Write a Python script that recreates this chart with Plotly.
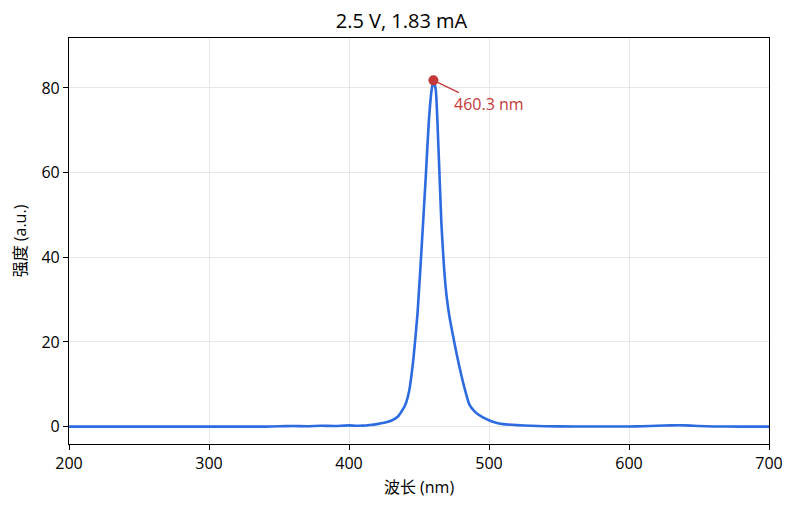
import plotly.graph_objects as go

# spectrum
wavelength = [200, 220, 240, 260, 280, 300, 320, 340, 350, 360, 370, 380, 390, 400,
              405, 410, 415, 420, 425, 430, 435, 440, 443, 446, 449, 452, 455, 457,
              459, 460.3, 462, 464, 466, 468, 470, 472, 474, 477, 480, 483, 486, 490,
              495, 500, 505, 510, 520, 530, 540, 560, 580, 600, 610, 620, 630, 640,
              650, 660, 680, 700]
intensity = [0.0, 0.0, 0.0, 0.0, 0.0, 0.0, 0.0, 0.0, 0.1, 0.15, 0.1, 0.2, 0.15, 0.3,
             0.2, 0.25, 0.4, 0.6, 0.9, 1.4, 2.4, 5.0, 8.5, 16.0, 27.0, 43.0, 60.0, 72.0,
             79.5, 81.8, 79.5, 65.0, 48.0, 37.0, 30.0, 25.5, 22.0, 17.0, 12.5, 8.5, 5.2, 3.5,
             2.3, 1.5, 0.9, 0.6, 0.35, 0.2, 0.1, 0.05, 0.05, 0.05, 0.1, 0.2, 0.3, 0.3,
             0.15, 0.05, 0.0, 0.0]
peak_wl = 460.3
peak_val = 81.8
title = "2.5 V, 1.83 mA"

font = "Open Sans, Noto Sans CJK SC, sans-serif"
blue = "#2d6be0"
red = "#c4383a"

fig = go.Figure()
fig.add_trace(go.Scatter(x=wavelength, y=intensity, mode="lines",
                         line=dict(color=blue, width=2.6, shape="spline", smoothing=0.5)))
fig.add_trace(go.Scatter(x=[peak_wl], y=[peak_val], mode="markers",
                         marker=dict(color=red, size=10)))

# leader line and label for the peak
fig.add_annotation(x=peak_wl, y=peak_val, text="", showarrow=True,
                   arrowhead=0, arrowwidth=1.2, arrowcolor=red, ax=27, ay=13)
fig.add_annotation(x=peak_wl, y=peak_val, text=f"{peak_wl} nm", showarrow=False,
                   xanchor="left", yanchor="middle", xshift=19, yshift=-24,
                   font=dict(color=red, size=16, family=font))

axis_style = dict(showline=True, linecolor="black", linewidth=1.2, mirror=True,
                  ticks="outside", ticklen=5, tickcolor="black",
                  showgrid=True, gridcolor="#e6e6e6", gridwidth=1,
                  zeroline=False, tickfont=dict(size=16, color="black"))

fig.update_xaxes(range=[200, 700], dtick=100,
                 title=dict(text="波长 (nm)", font=dict(size=16), standoff=8),
                 **axis_style)
fig.update_yaxes(range=[-4.1, 91.8], dtick=20,
                 title=dict(text="强度 (a.u.)", font=dict(size=16), standoff=10),
                 **axis_style)

# page body adds an 8px offset, so the figure is sized to the visible window
fig.update_layout(
    width=787, height=502,
    margin=dict(l=59, r=26, t=30, b=66),
    title=dict(text=title, x=0.5, xanchor="center", y=0.975, yanchor="middle",
               font=dict(size=20, color="black")),
    font=dict(family=font, color="black"),
    plot_bgcolor="white", paper_bgcolor="white",
    showlegend=False,
)

fig.write_html("out.html")
